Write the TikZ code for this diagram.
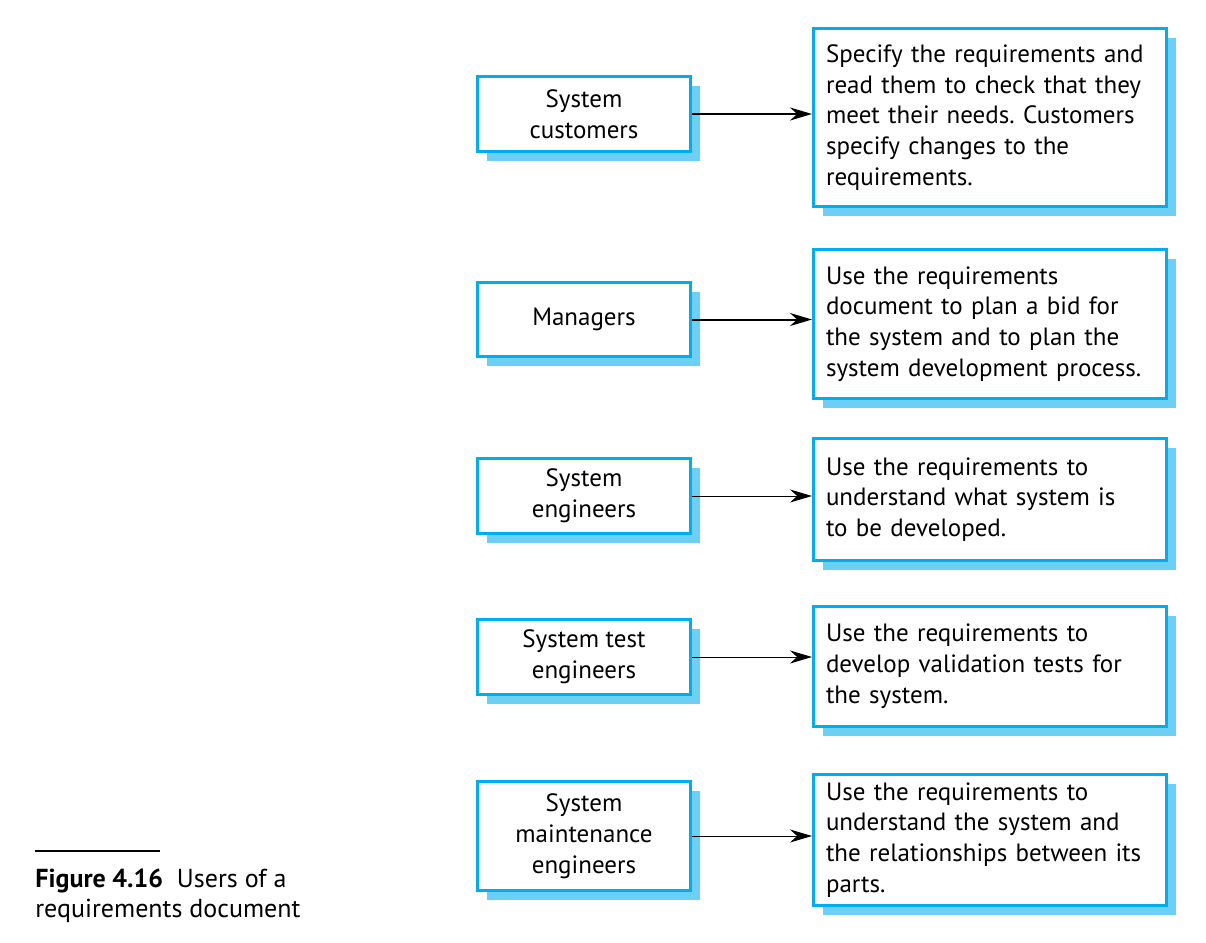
\documentclass[tikz,border=0pt]{standalone}
\usepackage{fontspec}
\setmainfont{PT Sans}
\usetikzlibrary{shadows,arrows.meta}
\definecolor{boxcyan}{RGB}{0,174,239}
\definecolor{shadowblue}{RGB}{110,207,246}
\frenchspacing

\begin{document}
\begin{tikzpicture}[x=0.5pt,y=-0.5pt,
  every node/.style={font=\fontsize{12.5}{15.4}\selectfont},
  cyanbox/.style={draw=boxcyan,line width=1.5pt,fill=white,
    drop shadow={shadow xshift=4.5pt,shadow yshift=-4.5pt,fill=shadowblue,opacity=1}},
  userbox/.style={cyanbox,minimum width=106.5pt,align=center},
  taskbox/.style={cyanbox,minimum width=176.5pt,inner xsep=6pt,text width=164pt,align=left},
  usearrow/.style={-{Stealth[length=11pt,width=6.5pt]},line width=1pt}]
\useasboundingbox (0,0) rectangle (1206,943);

% users
\node[userbox,minimum height=37.5pt] (cust) at (584,114) {System\\customers};
\node[userbox,minimum height=37pt] (mgr) at (584,319.5) {Managers};
\node[userbox,minimum height=37.5pt] (syseng) at (584,496) {System\\engineers};
\node[userbox,minimum height=37.5pt] (testeng) at (584,657) {System test\\engineers};
\node[userbox,minimum height=54.5pt] (mainteng) at (584,836) {System\\maintenance\\engineers};

% what they do with it
\node[taskbox,minimum height=89pt] (custuse) at (990,117.5) {Specify the requirements and\\read them to check that they\\meet their needs. Customers\\specify changes to the\\requirements.};
\node[taskbox,minimum height=74.5pt] (mgruse) at (990,324) {Use the requirements\\document to plan a bid for\\the system and to plan the\\system development process.};
\node[taskbox,minimum height=61pt] (sysenguse) at (990,499.5) {Use the requirements to\\understand what system is\\to be developed.};
\node[taskbox,minimum height=60pt] (testenguse) at (990,666.5) {Use the requirements to\\develop validation tests for\\the system.};
\node[taskbox,minimum height=65.5pt] (maintenguse) at (990,840) {Use the requirements to\\understand the system and\\the relationships between its\\parts.};

\draw[usearrow] (cust.east) -- (cust.east -| custuse.west);
\draw[usearrow] (mgr.east) -- (mgr.east -| mgruse.west);
\draw[usearrow,line width=0.5pt] (syseng.east) -- (syseng.east -| sysenguse.west);
\draw[usearrow,line width=0.5pt] (testeng.east) -- (testeng.east -| testenguse.west);
\draw[usearrow,line width=0.5pt] (mainteng.east) -- (mainteng.east -| maintenguse.west);

% caption
\coordinate (rulel) at (35,851);
\coordinate (ruler) at (160,851);
\draw[line width=1pt] (rulel) -- (ruler);
\node[anchor=north west,align=left,inner sep=0pt,font=\fontsize{13}{14.6}\selectfont] (caption) at (35,869) {\textbf{Figure 4.16}\ \ Users of a\\requirements document};
\end{tikzpicture}
\end{document}
